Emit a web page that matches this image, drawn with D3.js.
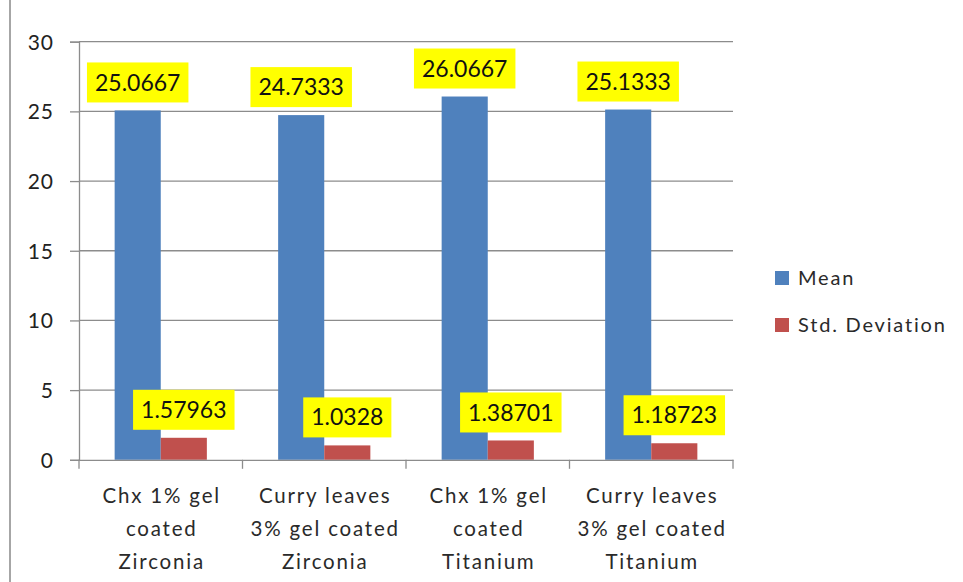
<!DOCTYPE html>
<html>
<head>
<meta charset="utf-8">
<script src="https://cdn.jsdelivr.net/npm/d3@7"></script>
<style>
  html, body { margin: 0; padding: 0; background: #fff; }
  svg { display: block; }
  text { font-family: Lato, "Liberation Sans", sans-serif; }
</style>
</head>
<body>
<svg id="chart" width="963" height="582"></svg>
<script>
const categories = [
  "Chx 1% gel coated Zirconia",
  "Curry leaves 3% gel coated Zirconia",
  "Chx 1% gel coated Titanium",
  "Curry leaves 3% gel coated Titanium"
];
const categoryLines = [
  ["Chx 1% gel", "coated", "Zirconia"],
  ["Curry leaves", "3% gel coated", "Zirconia"],
  ["Chx 1% gel", "coated", "Titanium"],
  ["Curry leaves", "3% gel coated", "Titanium"]
];
const seriesNames = ["Mean", "Std. Deviation"];
const meanValues = [25.0667, 24.7333, 26.0667, 25.1333];
const sdValues = [1.57963, 1.0328, 1.38701, 1.18723];
const meanLabels = ["25.0667", "24.7333", "26.0667", "25.1333"];
const sdLabels = ["1.57963", "1.0328", "1.38701", "1.18723"];
const yTicks = [0, 5, 10, 15, 20, 25, 30];
const colors = ["#4F81BD", "#C0504D"];

(function() {
const svg = d3.select("#chart");

// frame line on left
svg.append("line").attr("x1", 10).attr("x2", 10).attr("y1", 0).attr("y2", 582)
  .attr("stroke", "#a6a6a6").attr("stroke-width", 2);

const mLeft = 79, mRight = 733, mTop = 41.7, mBottom = 459.8;

const x0 = d3.scaleBand().domain(categories).range([mLeft, mRight]).padding(0);
const bw = x0.bandwidth();
const x1 = d3.scaleBand().domain(seriesNames).range([bw * 0.218, bw * 0.782]).padding(0);
const y = d3.scaleLinear().domain([0, 30]).range([mBottom, mTop]);

// gridlines
svg.append("g").selectAll("line").data(yTicks.filter(d => d > 0)).join("line")
  .attr("x1", mLeft).attr("x2", mRight)
  .attr("y1", d => y(d)).attr("y2", d => y(d))
  .attr("stroke", "#8c8c8c").attr("stroke-width", 1.3);

// bars
const data = categories.map((c, i) => ({ c, i, vals: [meanValues[i], sdValues[i]], labs: [meanLabels[i], sdLabels[i]] }));
const groups = svg.append("g").selectAll("g").data(data).join("g")
  .attr("transform", d => `translate(${x0(d.c)},0)`);

groups.selectAll("rect").data(d => d.vals.map((v, k) => ({ v, k }))).join("rect")
  .attr("x", d => x1(seriesNames[d.k]))
  .attr("width", x1.bandwidth())
  .attr("y", d => y(d.v))
  .attr("height", d => y(0) - y(d.v))
  .attr("fill", d => colors[d.k]);

// y axis
const yAxis = d3.axisLeft(y).tickValues(yTicks).tickSize(9).tickPadding(16);
const gy = svg.append("g").attr("transform", `translate(${mLeft},0)`).call(yAxis);
gy.select(".domain").attr("stroke", "#8c8c8c").attr("stroke-width", 1.3);
gy.selectAll(".tick line").attr("stroke", "#8c8c8c").attr("stroke-width", 1.3);
gy.selectAll(".tick text").attr("font-size", 21).attr("fill", "#222")
  .attr("font-family", "Lato, sans-serif").attr("dy", "0.35em").attr("letter-spacing", 1);

// x axis
const xAxis = d3.axisBottom(x0).tickSize(0).tickFormat("");
const gx = svg.append("g").attr("transform", `translate(0,${mBottom})`).call(xAxis);
gx.select(".domain").attr("stroke", "#8c8c8c").attr("stroke-width", 1.3);
gx.selectAll(".tick").remove();
const boundaries = categories.map(c => x0(c)).concat([mRight]);
gx.selectAll("line.bt").data(boundaries).join("line").attr("class", "bt")
  .attr("x1", d => d).attr("x2", d => d).attr("y1", 0).attr("y2", 9)
  .attr("stroke", "#8c8c8c").attr("stroke-width", 1.3);

// category labels
const catText = svg.append("g").selectAll("text").data(data).join("text")
  .attr("text-anchor", "middle")
  .attr("font-size", 20.5).attr("letter-spacing", 1.8).attr("fill", "#2a2a2a");
catText.each(function(d) {
  const t = d3.select(this);
  categoryLines[d.i].forEach((ln, j) => {
    t.append("tspan").attr("x", x0(d.c) + bw / 2 + 1).attr("y", 503 + j * 33).text(ln);
  });
});

// value labels
groups.each(function(d) {
  const g = d3.select(this);
  d.vals.forEach((v, k) => {
    const cx = x1(seriesNames[k]) + x1.bandwidth() / 2;
    const lg = g.append("g");
    const txt = lg.append("text").attr("text-anchor", "middle").attr("font-size", 23)
      .attr("fill", "#111").attr("x", cx).attr("y", y(v) - 8 - 20).attr("dy", "0.35em")
      .text(d.labs[k]);
    const w = txt.node().getComputedTextLength();
    lg.insert("rect", "text").attr("x", cx - w / 2 - 8).attr("width", w + 16)
      .attr("y", y(v) - 8 - 40).attr("height", 40).attr("fill", "#FFFF00");
  });
});

// legend
const legend = svg.append("g");
seriesNames.forEach((s, k) => {
  const yy = 271 + k * 47;
  legend.append("rect").attr("x", 775).attr("y", yy).attr("width", 14).attr("height", 14).attr("fill", colors[k]);
  legend.append("text").attr("x", 798).attr("y", yy + 14).attr("font-size", 20)
    .attr("letter-spacing", 1.8).attr("fill", "#2a2a2a").text(s);
});
})();
</script>
</body>
</html>
